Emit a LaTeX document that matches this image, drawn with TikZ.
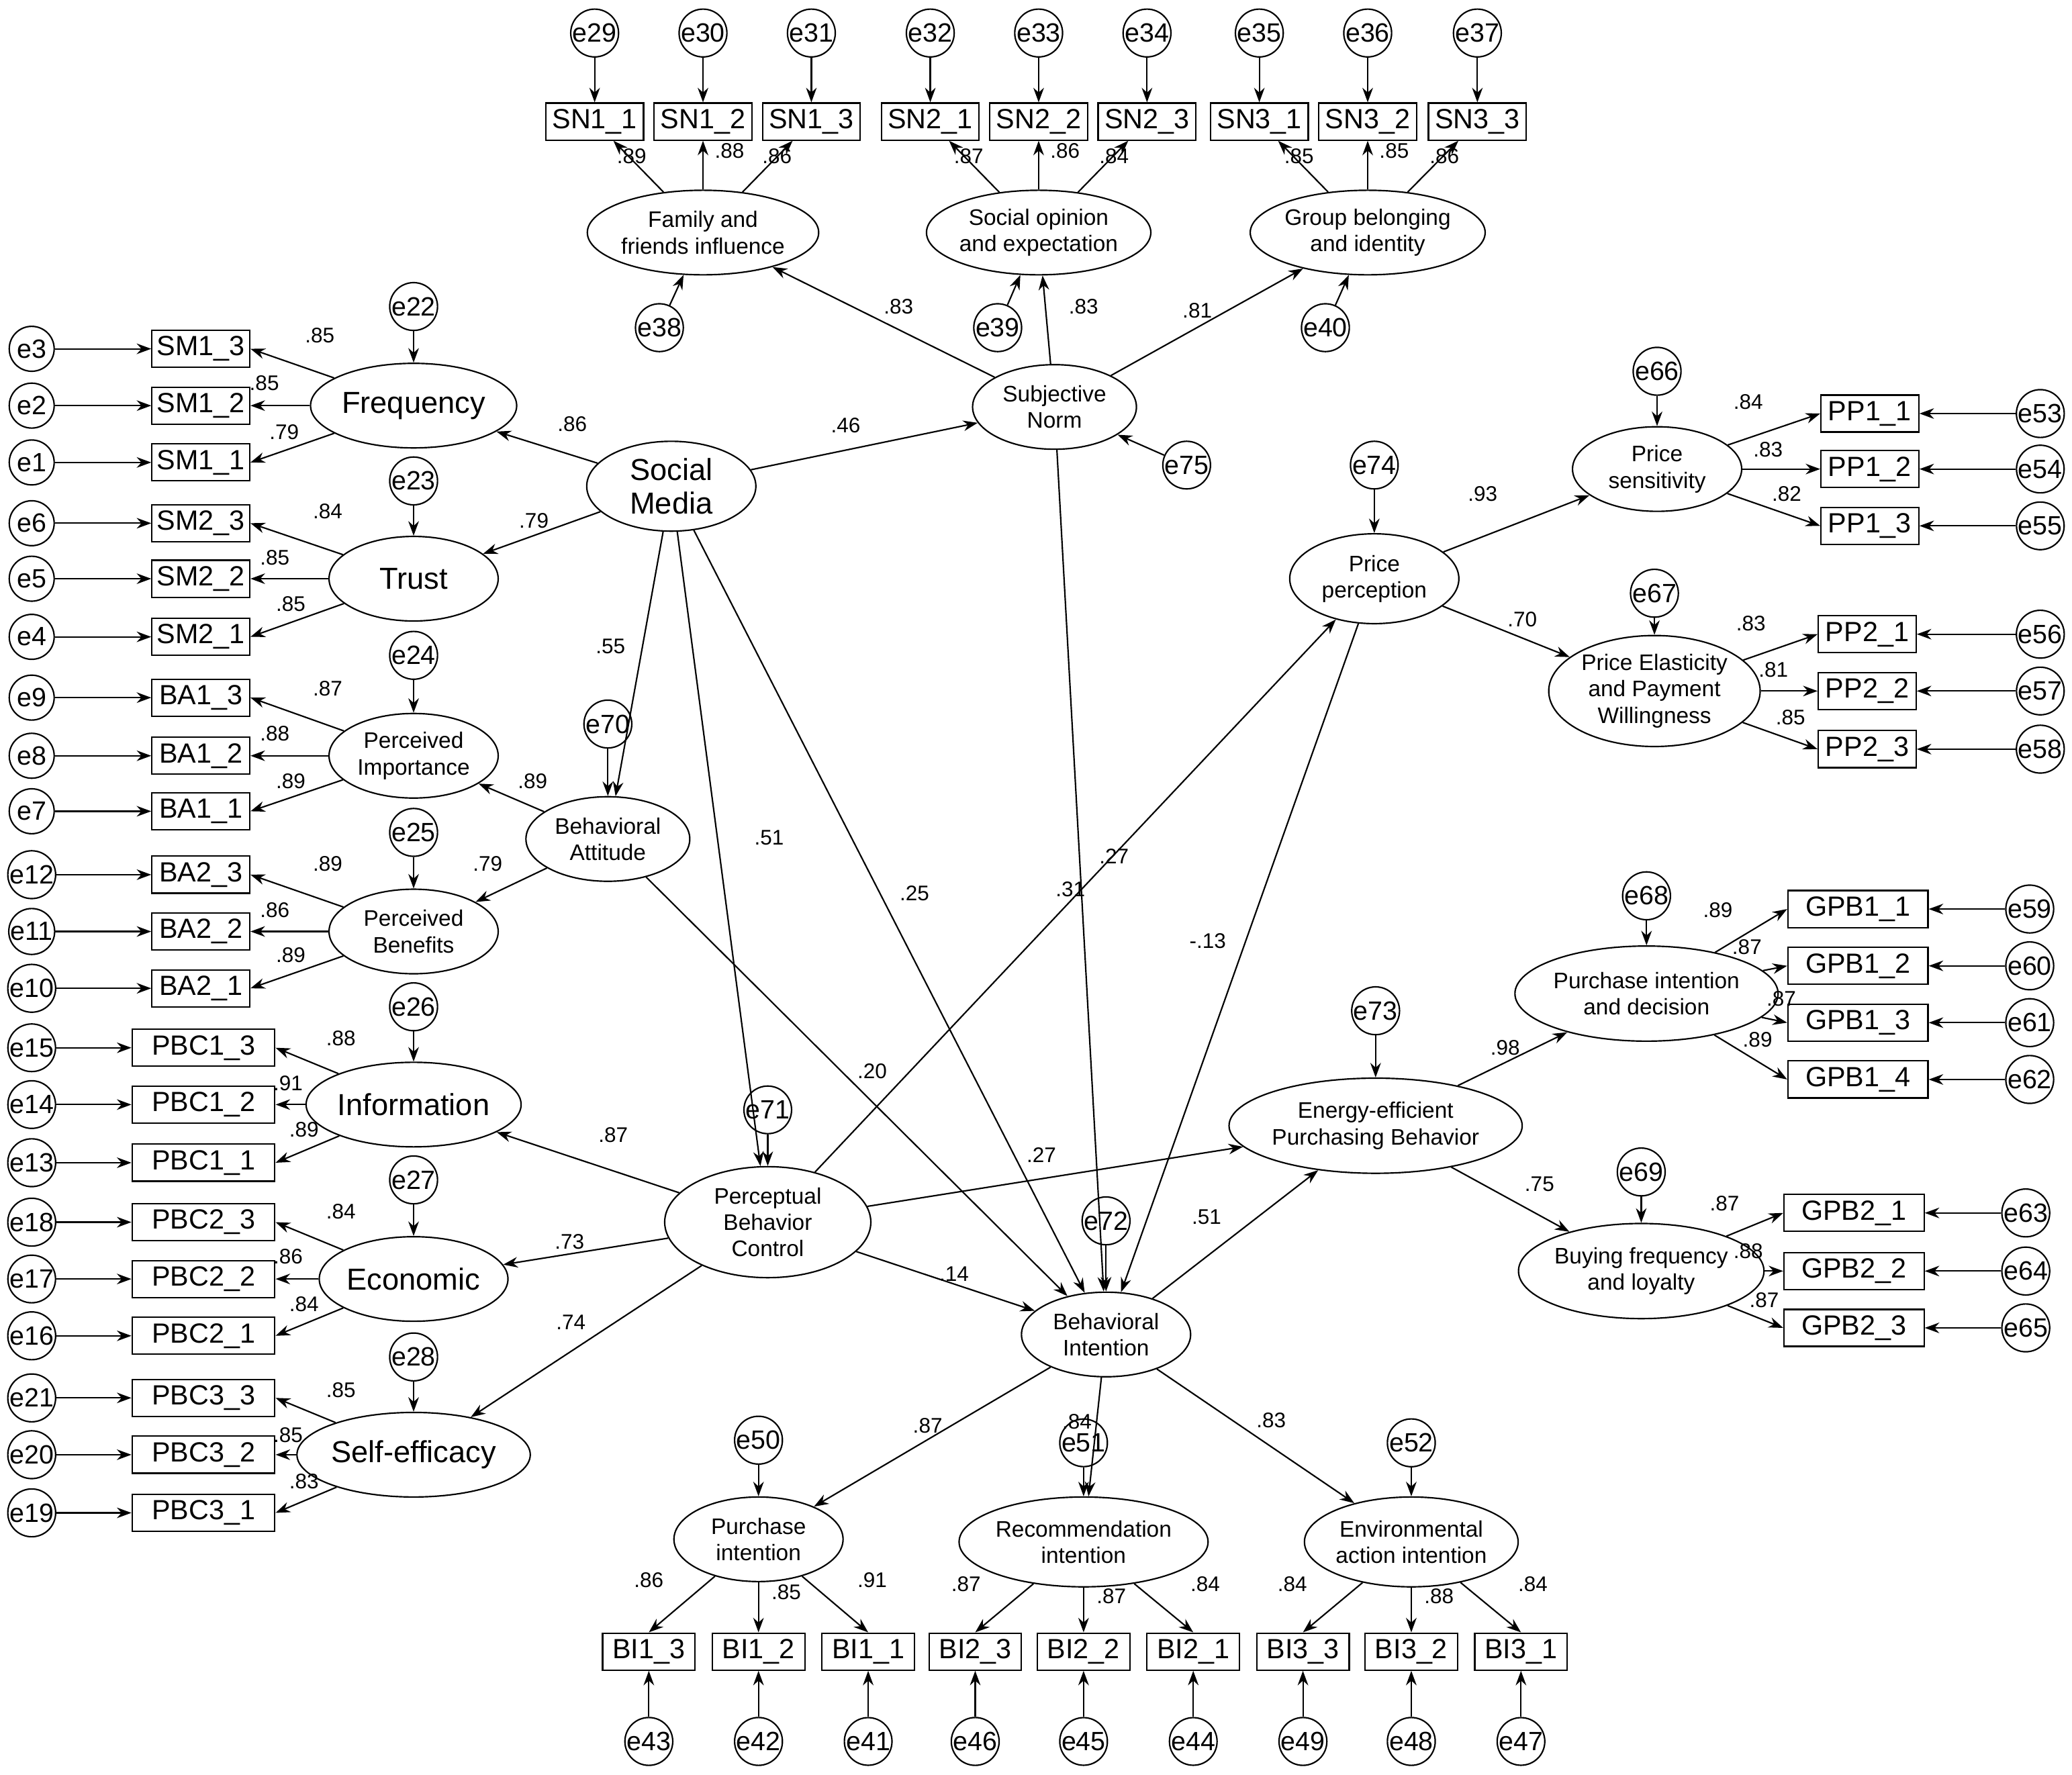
\documentclass[tikz,border=0pt]{standalone}
\usepackage{fontspec}
\setmainfont{Liberation Sans}
\usetikzlibrary{shapes.geometric,arrows.meta}
\tikzset{
 arr/.style={-{Stealth[length=11pt,width=8pt]},line width=1.1pt},
 ind/.style={draw,line width=1.1pt,minimum height=28pt,inner sep=0pt,font=\fontsize{21}{22}\selectfont},
 err/.style={draw,circle,line width=1.1pt,minimum size=34pt,inner sep=0pt,font=\fontsize{20}{20}\selectfont},
 lat/.style={draw,ellipse,line width=1.1pt,inner sep=0pt,align=center,font=\fontsize{17}{20}\selectfont},
 big/.style={lat,font=\fontsize{23}{25}\selectfont},
 lab/.style={font=\fontsize{16}{16}\selectfont,inner sep=0pt}
}
\newcommand\indL[6]{\node[ind,minimum width=#5] (#1) at (#6,#3) {#2}; \node[err] (#1e) at (24,#3) {#4}; \draw[arr] (#1e) -- (#1);}
\newcommand\indR[7]{\node[ind,minimum width=#5] (#1) at (#3,#4) {#2}; \node[err] (#1e) at (#7,#4) {#6}; \draw[arr] (#1e) -- (#1);}
\newcommand\indT[4]{\node[ind,minimum width=74pt] (#1) at (#3,92) {#2}; \node[err] (#1e) at (#3,25) {#4}; \draw[arr] (#1e) -- (#1);}
\newcommand\indB[4]{\node[ind,minimum width=70pt] (#1) at (#3,1250) {#2}; \node[err] (#1e) at (#3,1318) {#4}; \draw[arr] (#1e) -- (#1);}
\newcommand\lerr[4]{\node[err] (#1) at (#2,#3) {#4};}
\begin{document}
\begin{tikzpicture}[x=1pt,y=-1pt]
\useasboundingbox (0,0) rectangle (1568,1343);
% top indicators
\indT{SN11}{SN1\_1}{450}{e29}\indT{SN12}{SN1\_2}{532}{e30}\indT{SN13}{SN1\_3}{614}{e31}
\indT{SN21}{SN2\_1}{704}{e32}\indT{SN22}{SN2\_2}{786}{e33}\indT{SN23}{SN2\_3}{868}{e34}
\indT{SN31}{SN3\_1}{953}{e35}\indT{SN32}{SN3\_2}{1035}{e36}\indT{SN33}{SN3\_3}{1118}{e37}
\node[lat,minimum width=156pt,minimum height=64pt] (Fam) at (532,176) {Family and\\friends influence};
\node[lat,minimum width=156pt,minimum height=64pt] (Soc) at (786,176) {Social opinion\\and expectation};
\node[lat,minimum width=156pt,minimum height=64pt] (Grp) at (1035,176) {Group belonging\\and identity};
\lerr{e38}{499}{248}{e38}\lerr{e39}{755}{248}{e39}\lerr{e40}{1003}{248}{e40}
\draw[arr] (e38)--(Fam); \draw[arr] (e39)--(Soc); \draw[arr] (e40)--(Grp);
\foreach \a/\b in {Fam/SN11,Fam/SN12,Fam/SN13,Soc/SN21,Soc/SN22,Soc/SN23,Grp/SN31,Grp/SN32,Grp/SN33} \draw[arr] (\a)--(\b);
\node[lat,minimum width=124pt,minimum height=64pt] (SN) at (798,308) {Subjective\\Norm};
\lerr{e75}{898}{352}{e75}\draw[arr] (e75)--(SN);
\node[big,minimum width=128pt,minimum height=68pt] (SM) at (508,368) {Social\\Media};
% left groups
\indL{SM13}{SM1\_3}{264}{e3}{74pt}{152}\indL{SM12}{SM1\_2}{307}{e2}{74pt}{152}\indL{SM11}{SM1\_1}{350}{e1}{74pt}{152}
\indL{SM23}{SM2\_3}{396}{e6}{74pt}{152}\indL{SM22}{SM2\_2}{438}{e5}{74pt}{152}\indL{SM21}{SM2\_1}{482}{e4}{74pt}{152}
\indL{BA13}{BA1\_3}{528}{e9}{74pt}{152}\indL{BA12}{BA1\_2}{572}{e8}{74pt}{152}\indL{BA11}{BA1\_1}{614}{e7}{74pt}{152}
\indL{BA23}{BA2\_3}{662}{e12}{74pt}{152}\indL{BA22}{BA2\_2}{705}{e11}{74pt}{152}\indL{BA21}{BA2\_1}{748}{e10}{74pt}{152}
\indL{P13}{PBC1\_3}{793}{e15}{108pt}{154}\indL{P12}{PBC1\_2}{836}{e14}{108pt}{154}\indL{P11}{PBC1\_1}{880}{e13}{108pt}{154}
\indL{P23}{PBC2\_3}{925}{e18}{108pt}{154}\indL{P22}{PBC2\_2}{968}{e17}{108pt}{154}\indL{P21}{PBC2\_1}{1011}{e16}{108pt}{154}
\indL{P33}{PBC3\_3}{1058}{e21}{108pt}{154}\indL{P32}{PBC3\_2}{1101}{e20}{108pt}{154}\indL{P31}{PBC3\_1}{1145}{e19}{108pt}{154}
\node[big,minimum width=156pt,minimum height=64pt] (Freq) at (313,307) {Frequency};
\node[big,minimum width=128pt,minimum height=64pt] (Tr) at (313,438) {Trust};
\node[lat,minimum width=128pt,minimum height=64pt] (PI) at (313,572) {Perceived\\Importance};
\node[lat,minimum width=128pt,minimum height=64pt] (PB) at (313,705) {Perceived\\Benefits};
\node[big,minimum width=128pt,minimum height=64pt] (Inf) at (313,836) {Information};
\node[big,minimum width=128pt,minimum height=64pt] (Eco) at (313,968) {Economic};
\node[big,minimum width=128pt,minimum height=64pt] (Self) at (313,1101) {Self-efficacy};
\lerr{e22}{313}{232}{e22}\lerr{e23}{313}{364}{e23}\lerr{e24}{313}{496}{e24}\lerr{e25}{313}{630}{e25}
\lerr{e26}{313}{762}{e26}\lerr{e27}{313}{893}{e27}\lerr{e28}{313}{1027}{e28}
\foreach \e/\l in {e22/Freq,e23/Tr,e24/PI,e25/PB,e26/Inf,e27/Eco,e28/Self} \draw[arr] (\e)--(\l);
\foreach \l/\a/\b/\c in {Freq/SM13/SM12/SM11,Tr/SM23/SM22/SM21,PI/BA13/BA12/BA11,PB/BA23/BA22/BA21,Inf/P13/P12/P11,Eco/P23/P22/P21,Self/P33/P32/P31}
 {\draw[arr] (\l)--(\a.east); \draw[arr] (\l)--(\b.east); \draw[arr] (\l)--(\c.east);}
% center
\node[lat,minimum width=124pt,minimum height=64pt] (BA) at (460,635) {Behavioral\\Attitude};
\lerr{e70}{460}{548}{e70}\draw[arr] (e70)--(BA);
\node[lat,minimum width=156pt,minimum height=84pt] (PBC) at (581,925) {Perceptual\\Behavior\\Control};
\lerr{e71}{581}{840}{e71}\draw[arr] (e71)--(PBC);
\node[lat,minimum width=128pt,minimum height=64pt] (BI) at (837,1010) {Behavioral\\Intention};
\lerr{e72}{837}{924}{e72}\draw[arr] (e72)--(BI);
\node[lat,minimum width=128pt,minimum height=68pt] (PP) at (1040,438) {Price\\perception};
\lerr{e74}{1040}{352}{e74}\draw[arr] (e74)--(PP);
\node[lat,minimum width=128pt,minimum height=64pt] (PS) at (1254,355) {Price\\sensitivity};
\lerr{e66}{1254}{281}{e66}\draw[arr] (e66)--(PS);
\node[lat,minimum width=160pt,minimum height=84pt] (PE) at (1252,523) {Price Elasticity\\and Payment\\Willingness};
\lerr{e67}{1252}{449}{e67}\draw[arr] (e67)--(PE);
\node[lat,minimum width=196pt,minimum height=72pt] (EE) at (1041,852) {Energy-efficient\\Purchasing Behavior};
\lerr{e73}{1041}{765}{e73}\draw[arr] (e73)--(EE);
\node[lat,minimum width=160pt,minimum height=72pt] (PD) at (1246,752) {Purchase intention\\and decision};
\lerr{e68}{1246}{678}{e68}\draw[arr] (e68)--(PD);
\node[lat,minimum width=156pt,minimum height=72pt] (BF) at (1242,962) {Buying frequency\\and loyalty};
\lerr{e69}{1242}{887}{e69}\draw[arr] (e69)--(BF);
\node[lat,minimum width=128pt,minimum height=64pt] (PIn) at (574,1165) {Purchase\\intention};
\lerr{e50}{574}{1090}{e50}\draw[arr] (e50)--(PIn);
\node[lat,minimum width=156pt,minimum height=68pt] (RI) at (820,1167) {Recommendation\\intention};
\lerr{e51}{820}{1092}{e51}\draw[arr] (e51)--(RI);
\node[lat,minimum width=156pt,minimum height=68pt] (EI) at (1068,1167) {Environmental\\action intention};
\lerr{e52}{1068}{1092}{e52}\draw[arr] (e52)--(EI);
% right indicators
\indR{PP11}{PP1\_1}{1415}{313}{74pt}{e53}{1544}\indR{PP12}{PP1\_2}{1415}{355}{74pt}{e54}{1544}\indR{PP13}{PP1\_3}{1415}{398}{74pt}{e55}{1544}
\indR{PP21}{PP2\_1}{1413}{480}{74pt}{e56}{1544}\indR{PP22}{PP2\_2}{1413}{523}{74pt}{e57}{1544}\indR{PP23}{PP2\_3}{1413}{567}{74pt}{e58}{1544}
\indR{G11}{GPB1\_1}{1406}{688}{106pt}{e59}{1536}\indR{G12}{GPB1\_2}{1406}{731}{106pt}{e60}{1536}\indR{G13}{GPB1\_3}{1406}{774}{106pt}{e61}{1536}\indR{G14}{GPB1\_4}{1406}{817}{106pt}{e62}{1536}
\indR{G21}{GPB2\_1}{1403}{918}{106pt}{e63}{1533}\indR{G22}{GPB2\_2}{1403}{962}{106pt}{e64}{1533}\indR{G23}{GPB2\_3}{1403}{1005}{106pt}{e65}{1533}
\foreach \l/\b in {PS/PP11,PS/PP12,PS/PP13,PE/PP21,PE/PP22,PE/PP23,PD/G11,PD/G12,PD/G13,PD/G14,BF/G21,BF/G22,BF/G23} \draw[arr] (\l)--(\b.west);
% bottom indicators
\indB{B13}{BI1\_3}{491}{e43}\indB{B12}{BI1\_2}{574}{e42}\indB{B11}{BI1\_1}{657}{e41}
\indB{B23}{BI2\_3}{738}{e46}\indB{B22}{BI2\_2}{820}{e45}\indB{B21}{BI2\_1}{903}{e44}
\indB{B33}{BI3\_3}{986}{e49}\indB{B32}{BI3\_2}{1068}{e48}\indB{B31}{BI3\_1}{1151}{e47}
\foreach \l/\b in {PIn/B13,PIn/B12,PIn/B11,RI/B23,RI/B22,RI/B21,EI/B33,EI/B32,EI/B31} \draw[arr] (\l)--(\b.north);
% structural
\foreach \a/\b in {SN/Fam,SN/Soc,SN/Grp,SM/Freq,SM/Tr,SM/SN,SM/BA,SM/PBC,SM/BI,BA/PI,BA/PB,BA/BI,PBC/Inf,PBC/Eco,PBC/Self,PBC/BI,PBC/PP,PBC/EE,SN/BI,PP/PS,PP/PE,PP/BI,BI/EE,EE/PD,EE/BF,BI/PIn,BI/RI,BI/EI} \draw[arr] (\a)--(\b);
% labels
\foreach \x/\y/\t in {478/118/.89,552/114/.88,588/118/.86,733/118/.87,806/114/.86,843/118/.84,983/118/.85,1055/114/.85,1093/118/.86,
680/232/.83,820/232/.83,906/235/.81,433/321/.86,640/322/.46,404/394/.79,462/489/.55,582/634/.51,692/676/.25,843/648/.27,810/673/.31,914/712/-.13,660/811/.20,403/591/.89,369/654/.79,464/859/.87,431/940/.73,432/1001/.74,788/874/.27,722/964/.14,913/921/.51,1122/374/.93,1152/469/.70,1139/793/.98,1165/896/.75,702/1079/.87,815/1076/.84,962/1075/.83,
242/254/.85,200/290/.85,215/327/.79,248/387/.84,208/422/.85,220/457/.85,248/521/.87,208/555/.88,220/591/.89,248/654/.89,208/689/.86,220/723/.89,258/786/.88,218/820/.91,230/855/.89,258/917/.84,218/951/.86,230/987/.84,258/1052/.85,218/1086/.85,230/1121/.83,
1323/304/.84,1338/340/.83,1352/374/.82,1325/472/.83,1342/507/.81,1355/543/.85,1300/689/.89,1322/717/.87,1348/756/.87,1330/787/.89,1305/911/.87,1323/947/.88,1335/984/.87,
491/1196/.86,595/1205/.85,660/1196/.91,731/1199/.87,841/1208/.87,912/1199/.84,978/1199/.84,1089/1208/.88,1160/1199/.84}
 \node[lab] at (\x,\y) {\t};
\end{tikzpicture}
\end{document}
